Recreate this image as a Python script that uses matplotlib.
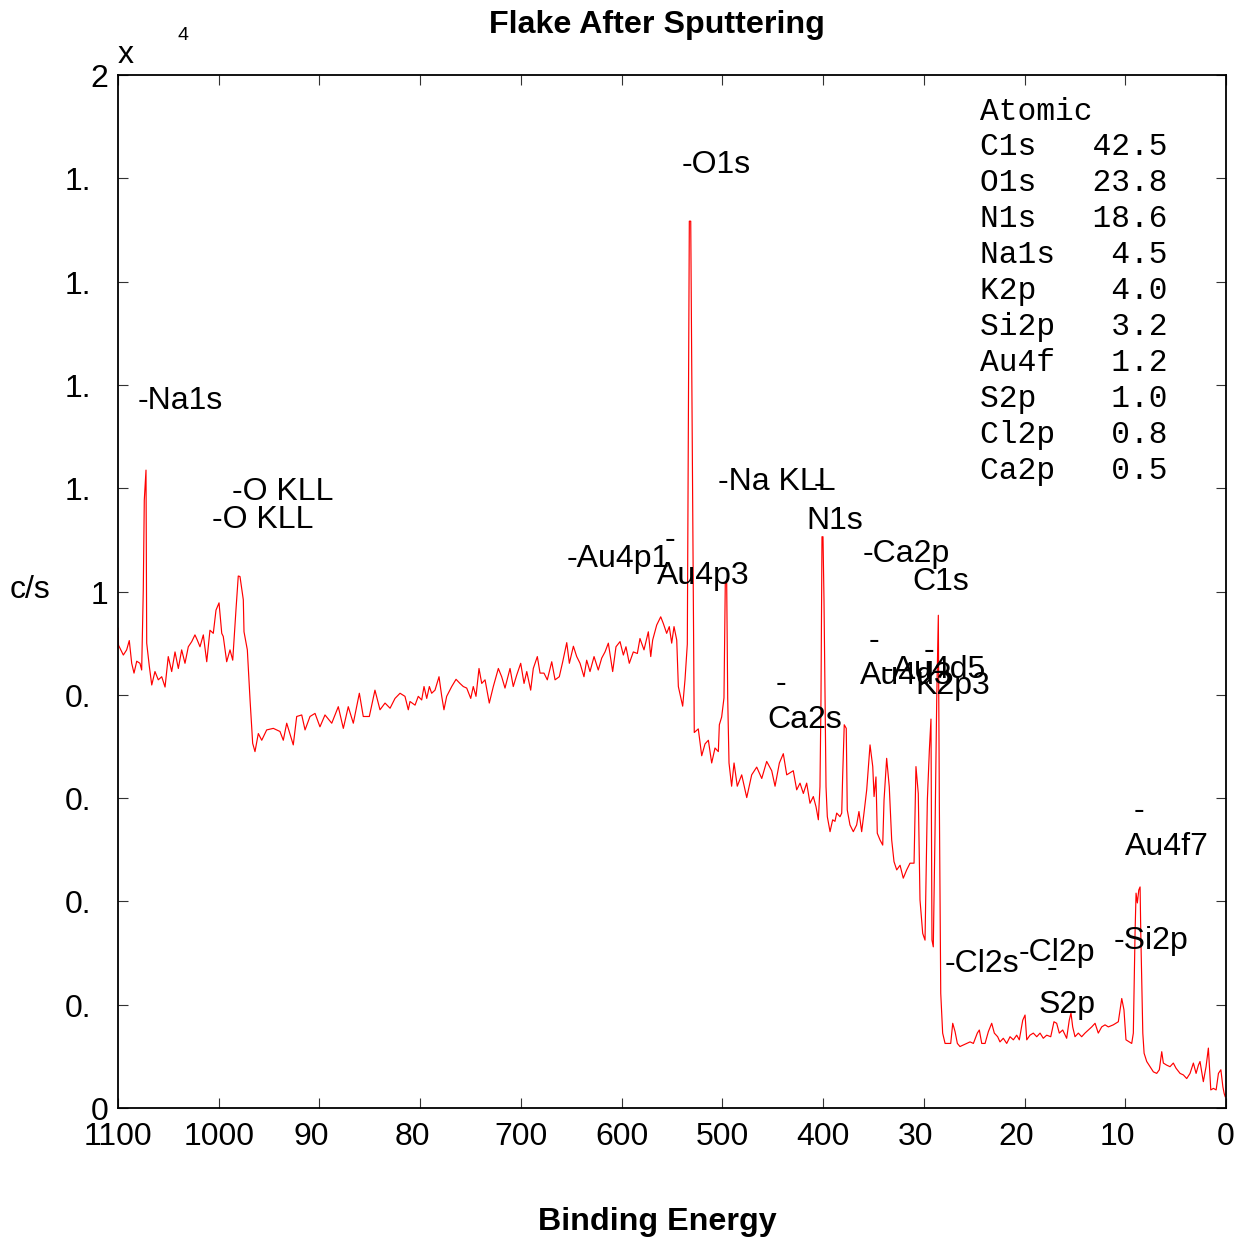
import matplotlib
matplotlib.use("Agg")
import matplotlib.pyplot as plt
from matplotlib.transforms import offset_copy

# ---------------- data ----------------
binding_energy = [
    1100.0, 1099.5, 1094.7, 1091.4, 1088.8, 1086.4, 1084.1, 1081.4, 1078.2, 1076.5,
    1074.9, 1073.9, 1072.2, 1071.5, 1068.9, 1066.5, 1063.3, 1060.0, 1056.6, 1053.3,
    1050.1, 1046.7, 1043.4, 1040.1, 1036.8, 1033.5, 1030.2, 1026.8, 1023.6, 1021.3,
    1018.6, 1015.3, 1011.9, 1008.7, 1005.4, 1002.7, 999.7, 997.0, 995.5, 992.1,
    988.8, 986.1, 983.8, 982.8, 980.6, 978.9, 975.6, 974.9, 971.6, 968.9,
    966.3, 964.0, 960.7, 957.3, 952.4, 945.8, 939.2, 935.9, 932.5, 926.0,
    922.6, 917.6, 914.3, 909.4, 904.4, 899.5, 894.5, 887.8, 881.3, 876.3,
    871.4, 866.4, 860.4, 856.5, 850.5, 844.9, 839.9, 834.9, 829.9, 825.0,
    820.0, 815.1, 811.8, 810.1, 805.1, 801.9, 798.5, 796.2, 793.5, 790.9,
    788.6, 785.3, 781.3, 778.6, 776.4, 773.7, 768.7, 764.4, 760.5, 757.2,
    753.8, 749.8, 747.3, 744.6, 741.6, 738.9, 735.6, 731.4, 727.4, 722.4,
    719.1, 715.8, 710.8, 707.6, 704.2, 700.2, 696.9, 694.2, 690.3, 687.7,
    683.7, 681.0, 677.1, 673.8, 669.4, 666.1, 661.9, 658.5, 654.5, 651.9,
    647.9, 644.6, 641.3, 637.4, 634.7, 631.4, 627.4, 623.2, 619.8, 616.5,
    613.2, 608.9, 605.6, 601.6, 598.3, 595.7, 592.4, 588.4, 584.4, 581.8,
    577.8, 573.5, 571.1, 569.2, 565.2, 561.2, 558.6, 555.3, 552.7, 550.3,
    548.0, 545.3, 543.7, 539.4, 537.1, 534.8, 532.8, 531.4, 529.4, 527.9,
    523.9, 520.5, 517.2, 513.9, 510.6, 507.3, 504.0, 503.0, 500.7, 498.4,
    497.1, 495.7, 494.7, 493.4, 490.8, 488.4, 485.2, 480.8, 475.8, 470.9,
    465.9, 460.9, 456.0, 451.0, 447.7, 443.4, 439.5, 436.1, 429.6, 426.2,
    422.9, 419.6, 416.3, 413.0, 409.7, 407.0, 404.7, 403.1, 402.1, 401.1,
    400.1, 399.1, 397.1, 395.8, 393.1, 390.5, 388.2, 386.5, 383.2, 381.5,
    380.6, 379.0, 377.0, 376.0, 373.3, 370.0, 366.7, 364.4, 361.7, 359.4,
    356.7, 353.4, 350.7, 349.4, 347.5, 346.2, 343.5, 340.8, 339.5, 336.9,
    334.3, 331.9, 329.6, 326.9, 323.6, 320.4, 317.0, 313.7, 309.7, 307.8,
    305.5, 303.8, 301.1, 298.8, 296.5, 294.5, 292.9, 291.9, 290.6, 288.9,
    287.2, 285.6, 284.6, 283.2, 281.3, 278.9, 275.7, 273.3, 271.3, 269.0,
    266.7, 264.1, 260.8, 257.4, 254.1, 250.8, 246.9, 244.9, 242.5, 239.2,
    235.9, 232.6, 230.0, 226.7, 224.4, 221.1, 217.7, 214.4, 211.1, 207.8,
    205.2, 201.8, 199.5, 197.8, 194.6, 191.3, 187.9, 184.6, 181.4, 178.0,
    174.0, 170.8, 168.1, 165.5, 162.1, 158.2, 155.6, 153.9, 152.2, 149.9,
    146.6, 143.3, 140.0, 136.7, 133.3, 130.0, 126.8, 123.4, 120.1, 116.8,
    111.9, 106.9, 103.5, 101.3, 99.3, 96.0, 93.6, 92.0, 90.3, 89.3,
    88.0, 86.6, 85.3, 84.6, 82.6, 81.3, 78.7, 75.4, 72.1, 68.8,
    66.2, 63.8, 62.2, 58.9, 55.6, 52.3, 49.6, 45.6, 42.3, 39.0,
    35.7, 32.4, 29.7, 27.4, 25.8, 22.5, 19.8, 17.5, 15.1, 12.5,
    9.8, 7.5, 5.1, 3.1, 1.8, 0.8,
]

counts_e4 = [
    0.929, 0.896, 0.877, 0.887, 0.905, 0.861, 0.842, 0.865, 0.861, 0.848,
    1.003, 1.177, 1.235, 0.900, 0.855, 0.819, 0.845, 0.829, 0.835, 0.815,
    0.874, 0.845, 0.883, 0.851, 0.887, 0.861, 0.893, 0.903, 0.916, 0.906,
    0.893, 0.916, 0.864, 0.925, 0.919, 0.964, 0.978, 0.919, 0.913, 0.864,
    0.887, 0.867, 0.938, 0.967, 1.030, 1.029, 0.984, 0.922, 0.887, 0.790,
    0.706, 0.690, 0.725, 0.712, 0.732, 0.735, 0.729, 0.712, 0.745, 0.703,
    0.758, 0.761, 0.732, 0.758, 0.764, 0.738, 0.761, 0.745, 0.777, 0.735,
    0.777, 0.745, 0.803, 0.758, 0.758, 0.809, 0.771, 0.784, 0.774, 0.793,
    0.803, 0.797, 0.771, 0.787, 0.780, 0.797, 0.790, 0.816, 0.793, 0.816,
    0.803, 0.809, 0.835, 0.797, 0.771, 0.797, 0.816, 0.830, 0.822, 0.816,
    0.813, 0.793, 0.816, 0.797, 0.851, 0.822, 0.829, 0.784, 0.816, 0.851,
    0.835, 0.813, 0.851, 0.816, 0.838, 0.861, 0.822, 0.845, 0.809, 0.851,
    0.874, 0.842, 0.842, 0.829, 0.864, 0.829, 0.835, 0.864, 0.901, 0.861,
    0.894, 0.874, 0.861, 0.835, 0.867, 0.845, 0.874, 0.848, 0.871, 0.883,
    0.900, 0.845, 0.893, 0.903, 0.877, 0.893, 0.861, 0.883, 0.880, 0.909,
    0.887, 0.922, 0.874, 0.906, 0.935, 0.951, 0.938, 0.919, 0.932, 0.900,
    0.932, 0.906, 0.816, 0.778, 0.829, 0.898, 1.717, 1.717, 1.165, 0.727,
    0.734, 0.682, 0.705, 0.712, 0.668, 0.697, 0.690, 0.742, 0.757, 0.794,
    1.016, 1.016, 0.794, 0.668, 0.623, 0.668, 0.623, 0.645, 0.601, 0.645,
    0.660, 0.638, 0.671, 0.653, 0.623, 0.668, 0.686, 0.645, 0.653, 0.616,
    0.629, 0.609, 0.629, 0.590, 0.603, 0.583, 0.558, 0.622, 0.790, 1.106,
    1.106, 0.984, 0.622, 0.564, 0.535, 0.558, 0.555, 0.571, 0.564, 0.571,
    0.641, 0.742, 0.735, 0.577, 0.548, 0.535, 0.548, 0.574, 0.535, 0.571,
    0.616, 0.703, 0.661, 0.603, 0.641, 0.532, 0.519, 0.509, 0.596, 0.677,
    0.622, 0.519, 0.477, 0.461, 0.470, 0.445, 0.461, 0.474, 0.474, 0.661,
    0.609, 0.403, 0.338, 0.325, 0.596, 0.693, 0.753, 0.325, 0.312, 0.532,
    0.790, 0.954, 0.596, 0.222, 0.145, 0.125, 0.125, 0.125, 0.164, 0.148,
    0.125, 0.119, 0.122, 0.125, 0.128, 0.125, 0.145, 0.151, 0.125, 0.125,
    0.148, 0.164, 0.145, 0.138, 0.128, 0.135, 0.125, 0.138, 0.132, 0.141,
    0.132, 0.170, 0.180, 0.132, 0.141, 0.145, 0.138, 0.145, 0.135, 0.141,
    0.138, 0.167, 0.164, 0.145, 0.151, 0.135, 0.170, 0.184, 0.157, 0.138,
    0.145, 0.138, 0.145, 0.151, 0.157, 0.164, 0.145, 0.157, 0.161, 0.157,
    0.161, 0.167, 0.212, 0.190, 0.132, 0.128, 0.125, 0.145, 0.338, 0.416,
    0.397, 0.422, 0.428, 0.338, 0.145, 0.106, 0.090, 0.080, 0.070, 0.067,
    0.074, 0.109, 0.087, 0.083, 0.080, 0.087, 0.077, 0.067, 0.064, 0.057,
    0.067, 0.087, 0.067, 0.083, 0.090, 0.051, 0.080, 0.116, 0.035, 0.038,
    0.035, 0.067, 0.074, 0.041, 0.028, 0.022,
]

xtick_values = [1100, 1000, 900, 800, 700, 600, 500, 400, 300, 200, 100, 0]
xtick_full = ["1100", "1000", "900", "800", "700", "600", "500", "400", "300", "200", "100", "0"]
xtick_labels = ["1100", "1000", "90", "80", "700", "600", "500", "400", "30", "20", "10", "0"]

ytick_values = [0.0, 0.2, 0.4, 0.6, 0.8, 1.0, 1.2, 1.4, 1.6, 1.8, 2.0]
ytick_full = ["0", "0.2", "0.4", "0.6", "0.8", "1", "1.2", "1.4", "1.6", "1.8", "2"]
ytick_labels = ["0", "0.", "0.", "0.", "0.", "1", "1.", "1.", "1.", "1.", "2"]

peak_labels = ["-Na1s", "-O KLL", "-O KLL", "-O1s", "-Na KLL", "-", "N1s", "-Au4p1", "-",
               "Au4p3", "-Ca2p", "C1s", "-", "Ca2s", "-", "Au4d3", "-", "K2p3", "-Au4d5",
               "-Cl2s", "-Cl2p", "-", "S2p", "-Si2p", "-", "Au4f7"]
peak_label_x = [1080.1, 986.8, 1006.7, 540.1, 504.3, 409.0, 417.0, 654.2, 556.9,
                564.9, 360.4, 311.7, 446.7, 455.7, 354.4, 363.4, 299.8, 308.7, 340.5,
                279.0, 205.5, 177.7, 186.6, 111.2, 91.3, 100.3]
peak_label_y = [1.375, 1.198, 1.144, 1.832, 1.218, 1.212, 1.142, 1.069, 1.106,
                1.036, 1.078, 1.024, 0.827, 0.757, 0.910, 0.842, 0.891, 0.823, 0.854,
                0.285, 0.306, 0.275, 0.205, 0.329, 0.581, 0.511]

table_elements = ["C1s", "O1s", "N1s", "Na1s", "K2p", "Si2p", "Au4f", "S2p", "Cl2p", "Ca2p"]
table_values = [42.5, 23.8, 18.6, 4.5, 4.0, 3.2, 1.2, 1.0, 0.8, 0.5]

# ---------------- figure ----------------
W, H = 1243, 1239
fig = plt.figure(figsize=(W / 100, H / 100), dpi=100)
fig.patch.set_facecolor("white")
ax = fig.add_axes([118 / W, 1 - 1108 / H, 1108 / W, 1033 / H])

SANS = "Liberation Sans"
MONO = "Liberation Mono"
FS = 23

ax.plot(binding_energy, counts_e4, color="#ff0000", lw=0.85)

ax.set_xlim(1100, 0)
ax.set_ylim(0, 2)

for s in ax.spines.values():
    s.set_linewidth(1.3)
    s.set_color("black")

ax.set_xticks(xtick_values)
ax.set_yticks(ytick_values)
ax.set_xticklabels([])
ax.set_yticklabels([])
ax.tick_params(direction="in", length=7.5, width=0.8, color="#333333",
               top=True, right=True)

# x tick labels (truncated ones keep the left edge of the full label)
xtr = ax.get_xaxis_transform()
for v, full, lab in zip(xtick_values, xtick_full, xtick_labels):
    if lab == full:
        t = offset_copy(xtr, fig=fig, x=0, y=-29, units="dots")
        ax.text(v, 0, lab, transform=t, ha="center", va="center",
                fontsize=FS, family=SANS)
    else:
        t = offset_copy(xtr, fig=fig, x=-8.6 * len(full), y=-29, units="dots")
        ax.text(v, 0, lab, transform=t, ha="left", va="center",
                fontsize=FS, family=SANS)

# y tick labels
ytr = ax.get_yaxis_transform()
for v, full, lab in zip(ytick_values, ytick_full, ytick_labels):
    if lab == full:
        t = offset_copy(ytr, fig=fig, x=-10, y=-4, units="dots")
        ax.text(0, v, lab, transform=t, ha="right", va="center",
                fontsize=FS, family=SANS)
    else:
        t = offset_copy(ytr, fig=fig, x=-53, y=-4, units="dots")
        ax.text(0, v, lab, transform=t, ha="left", va="center",
                fontsize=FS, family=SANS)

# peak labels
ptr = offset_copy(ax.transData, fig=fig, x=0, y=-3, units="dots")
for lab, x, y in zip(peak_labels, peak_label_x, peak_label_y):
    ax.text(x, y, lab, transform=ptr, ha="left", va="center", fontsize=FS,
            family=SANS, clip_on=False)

# atomic % table
fig.text(980 / W, 1 - 112 / H, "Atomic", ha="left", va="center",
         fontsize=22.5, family=MONO)
for i, (el, val) in enumerate(zip(table_elements, table_values)):
    line = f"{el:<4}{val:>6.1f}"
    fig.text(980 / W, 1 - (147 + 36.0 * i) / H, line, ha="left", va="center",
             fontsize=22.5, family=MONO)

# titles / axis labels
fig.text(657 / W, 1 - 25 / H, "Flake After Sputtering", ha="center", va="center",
         fontsize=23.2, fontweight="bold", family=SANS)
fig.text(657 / W, 1 - 1222 / H, "Binding Energy", ha="center", va="center",
         fontsize=23.2, fontweight="bold", family=SANS)
fig.text(30 / W, 1 - 590 / H, "c/s", ha="center", va="center",
         fontsize=FS, family=SANS)
fig.text(126 / W, 1 - 55 / H, "x", ha="center", va="center",
         fontsize=FS, family=SANS)
fig.text(183 / W, 1 - 36 / H, "4", ha="center", va="center",
         fontsize=14, family=SANS)

fig.savefig("out.png", dpi=100, facecolor="white")
